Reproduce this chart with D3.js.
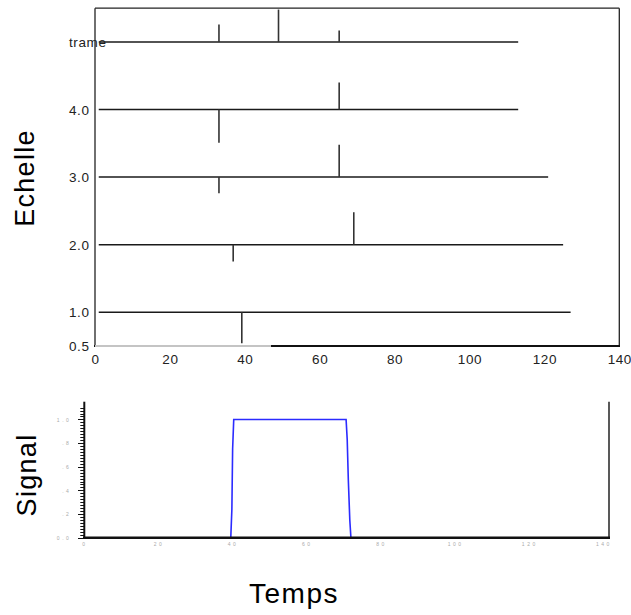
<!DOCTYPE html>
<html><head><meta charset="utf-8">
<script src="https://cdn.jsdelivr.net/npm/d3@7"></script>
<style>body{margin:0;background:#fff;} svg{display:block;font-family:"Liberation Sans",Arial,sans-serif;}</style>
</head><body>
<svg id="c" width="631" height="615"></svg>
<script>
// ---- Data: top panel (scales / "Echelle") ----
const levels = [0.5, 1, 2, 3, 4, 5];
const levelLabels = ["0.5", "1.0", "2.0", "3.0", "4.0", "trame"];
const lineStart = [0, 1, 1, 1, 1, 1];
const lineEnd = [47, 127, 125, 121, 113, 113];
const spikeLevel = [5, 5, 5, 4, 4, 3, 3, 2, 2, 1];
const spikeTime = [33.1, 49.0, 65.2, 65.2, 33.1, 65.2, 33.1, 36.9, 69.1, 39.2];
const spikeTip = [5.26, 5.48, 5.17, 4.40, 3.51, 3.48, 2.76, 1.75, 2.48, 0.54];
const topXTicks = [0, 20, 40, 60, 80, 100, 120, 140];

// ---- Data: bottom panel (signal) ----
const sigTime = [0, 39.5, 39.8, 40.0, 40.3, 70.6, 70.9, 71.2, 71.6, 71.9, 141.5];
const sigValue = [0, 0, 0.24, 0.75, 1.0, 1.0, 0.83, 0.49, 0.15, 0, 0];
const sigXTicks = [0, 20, 40, 60, 80, 100, 120, 140];
const sigYTicks = [0, 0.2, 0.4, 0.6, 0.8, 1.0];
const sigYTickLabels = ["0.0", ".2", ".4", ".6", ".8", "1.0"];

const svg = d3.select("#c");

// ===== Top panel =====
const x1 = d3.scaleLinear().domain([0, 140]).range([95, 619.3]);
const y1 = d3.scaleLinear().domain([0.5, 5.5]).range([346, 8.2]);

// frame
svg.append("line").attr("x1", 95).attr("x2", 619.3).attr("y1", y1(5.5)).attr("y2", y1(5.5))
  .attr("stroke", "#222").attr("stroke-width", 1.3);
svg.append("line").attr("x1", 619.3).attr("x2", 619.3).attr("y1", y1(5.5)).attr("y2", y1(0.5))
  .attr("stroke", "#222").attr("stroke-width", 1.3);
svg.append("line").attr("x1", 95).attr("x2", 95).attr("y1", y1(5.5)).attr("y2", y1(0.5))
  .attr("stroke", "#222").attr("stroke-width", 1.3);
svg.append("line").attr("x1", 94).attr("x2", 620).attr("y1", y1(0.5)).attr("y2", y1(0.5))
  .attr("stroke", "#111").attr("stroke-width", 2);

// baselines
const g1 = svg.append("g");
g1.selectAll("line.base").data(levels).join("line").attr("class", "base")
  .attr("x1", (d, i) => x1(lineStart[i])).attr("x2", (d, i) => x1(lineEnd[i]))
  .attr("y1", d => y1(d)).attr("y2", d => y1(d))
  .attr("stroke", (d, i) => i === 0 ? "#c4c4c4" : "#1a1a1a")
  .attr("stroke-width", (d, i) => i === 0 ? 2 : 1.5);

// spikes
g1.selectAll("line.spike").data(spikeTime).join("line").attr("class", "spike")
  .attr("x1", d => x1(d)).attr("x2", d => x1(d))
  .attr("y1", (d, i) => y1(spikeLevel[i])).attr("y2", (d, i) => y1(spikeTip[i]))
  .attr("stroke", "#333").attr("stroke-width", 1.6);

// y labels
const ay1 = svg.append("g").attr("transform", "translate(95,0)")
  .call(d3.axisLeft(y1).tickValues(levels).tickFormat((d, i) => levelLabels[i]).tickSize(0));
ay1.select(".domain").remove();
ay1.selectAll("text").attr("text-anchor", "start").attr("x", -26).attr("dy", "0.35em")
  .attr("font-size", 13.5).attr("letter-spacing", 0.6).attr("fill", "#222")
  .attr("font-family", "Liberation Sans, Arial, sans-serif");

// x labels
const ax1 = svg.append("g").attr("transform", `translate(0,${y1(0.5)})`)
  .call(d3.axisBottom(x1).tickValues(topXTicks).tickSize(0).tickPadding(8));
ax1.select(".domain").remove();
ax1.selectAll("text").attr("font-size", 13.5).attr("letter-spacing", 0.6).attr("fill", "#222")
  .attr("font-family", "Liberation Sans, Arial, sans-serif");

// ===== Bottom panel =====
const x2 = d3.scaleLinear().domain([0, 141.5]).range([84.3, 609]);
const y2 = d3.scaleLinear().domain([0, 1.15]).range([537.7, 401.7]);

// minor + major ticks on left axis
const minor = d3.range(0, 1.1001, 0.025);
svg.append("g").selectAll("line").data(minor).join("line")
  .attr("x1", d => Math.abs(d / 0.2 - Math.round(d / 0.2)) < 1e-6 ? 78 : 80.3).attr("x2", 84.3)
  .attr("y1", d => Math.round(y2(d)) + 0.5).attr("y2", d => Math.round(y2(d)) + 0.5)
  .attr("stroke", "#111").attr("stroke-width", 1);

// axes lines
svg.append("line").attr("x1", 84.3).attr("x2", 84.3).attr("y1", y2(1.15)).attr("y2", y2(0))
  .attr("stroke", "#111").attr("stroke-width", 2);
svg.append("line").attr("x1", 609).attr("x2", 609).attr("y1", y2(1.15)).attr("y2", y2(0))
  .attr("stroke", "#222").attr("stroke-width", 1.5);

// signal
const line = d3.line().x(d => x2(d[0])).y(d => y2(d[1]));
svg.append("path").datum(sigTime.map((t, i) => [t, sigValue[i]]))
  .attr("d", line).attr("fill", "none").attr("stroke", "#2b2bff").attr("stroke-width", 1.6);

svg.append("line").attr("x1", 83).attr("x2", 610).attr("y1", y2(0)).attr("y2", y2(0))
  .attr("stroke", "#111").attr("stroke-width", 2.6);

// tiny tick labels
const ax2 = svg.append("g").attr("transform", `translate(0,${y2(0)})`)
  .call(d3.axisBottom(x2).tickValues(sigXTicks).tickSize(0).tickPadding(5));
ax2.select(".domain").remove();
ax2.selectAll("text").attr("font-size", 5).attr("letter-spacing", 2.5).attr("fill", "#aaa")
  .attr("font-family", "Liberation Sans, Arial, sans-serif");

const ay2 = svg.append("g").attr("transform", "translate(84.3,0)")
  .call(d3.axisLeft(y2).tickValues(sigYTicks).tickFormat((d, i) => sigYTickLabels[i]).tickSize(0).tickPadding(13));
ay2.select(".domain").remove();
ay2.selectAll("text").attr("font-size", 5).attr("letter-spacing", 2.5).attr("fill", "#aaa")
  .attr("font-family", "Liberation Sans, Arial, sans-serif");

// titles
svg.append("text").attr("transform", "translate(34,178) rotate(-90)").attr("text-anchor", "middle")
  .attr("font-size", 27).attr("letter-spacing", 1.3).attr("fill", "#000").text("Echelle");
svg.append("text").attr("transform", "translate(36,475) rotate(-90)").attr("text-anchor", "middle")
  .attr("font-size", 27).attr("letter-spacing", 1.3).attr("fill", "#000").text("Signal");
svg.append("text").attr("x", 294).attr("y", 603).attr("text-anchor", "middle")
  .attr("font-size", 28).attr("letter-spacing", 1.5).attr("fill", "#000").text("Temps");
</script>
</body></html>
